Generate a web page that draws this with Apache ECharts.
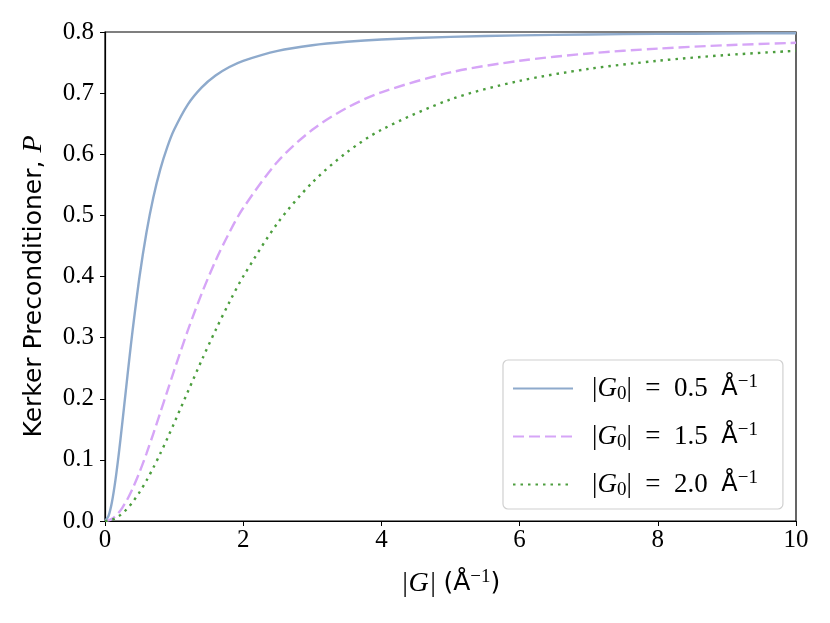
<!DOCTYPE html>
<html><head><meta charset="utf-8">
<script src="https://cdn.jsdelivr.net/npm/echarts@6/dist/echarts.min.js"></script>
<style>html,body{margin:0;padding:0;background:#fff}#c{width:830px;height:623px}</style>
</head><body><div id="c"></div>
<script>
const G = [0,0.05,0.1,0.15,0.2,0.25,0.3,0.35,0.4,0.5,0.6,0.7,0.8,0.9,1.0,1.2,1.4,1.6,1.8,2.0,2.5,3,3.5,4,5,6,7,8,9,10];
const P_05 = [0,0.0079,0.0308,0.0661,0.1103,0.16,0.2118,0.2631,0.3122,0.4,0.4721,0.5297,0.5753,0.6113,0.64,0.6817,0.7095,0.7288,0.7427,0.7529,0.7692,0.7784,0.784,0.7877,0.7921,0.7945,0.7959,0.7969,0.7975,0.798];
const P_15 = [0,0.0009,0.0035,0.0079,0.014,0.0216,0.0308,0.0413,0.0531,0.08,0.1103,0.1431,0.1772,0.2118,0.2462,0.3122,0.3724,0.4258,0.4721,0.512,0.5882,0.64,0.6759,0.7014,0.7339,0.7529,0.7649,0.7728,0.7784,0.7824];
const P_20 = [0,0.0005,0.002,0.0045,0.0079,0.0123,0.0176,0.0238,0.0308,0.0471,0.0661,0.0873,0.1103,0.1347,0.16,0.2118,0.2631,0.3122,0.358,0.4,0.4878,0.5538,0.6031,0.64,0.6897,0.72,0.7396,0.7529,0.7624,0.7692];
const seriesNames = ['0.5','1.5','2.0'];
const xTicks = {min:0,max:10,interval:2};
const yTicks = {min:0,max:0.8,interval:0.1};

const serif = 'Liberation Serif';
const sans = 'DejaVu Sans';
const pairs = a => G.map((g,i)=>[g,a[i]]);
const chart = echarts.init(document.getElementById('c'), null, {renderer:'canvas'});
const rich = {
  i:{fontFamily:serif,fontStyle:'italic',fontSize:27,color:'#000'},
  n:{fontFamily:serif,fontSize:27,color:'#000'},
  s:{fontFamily:sans,fontSize:24,color:'#000'},
  sub:{fontFamily:serif,fontSize:19,color:'#000',verticalAlign:'bottom',padding:[10,0,0,0]},
  sup:{fontFamily:serif,fontSize:19,color:'#000',verticalAlign:'top',padding:[0,0,12,0]}
};
const richX = Object.assign({}, rich, {
  i:{fontFamily:serif,fontStyle:'italic',fontSize:28,color:'#000'},
  n:{fontFamily:serif,fontSize:28,color:'#000'},
  s:{fontFamily:sans,fontSize:25,color:'#000'}
});
const richY = {
  s:{fontFamily:sans,fontSize:25,color:'#000'},
  i:{fontFamily:serif,fontStyle:'italic',fontSize:28,color:'#000'}
};
const lineCfg = [
  {color:'#8eaacc',type:'solid'},
  {color:'#d6a5f7',type:[11,5]},
  {color:'#4c9e3e',type:[2.5,5]}
];
const data = [P_05,P_15,P_20];
chart.setOption({
  animation:false,
  backgroundColor:'#fff',
  grid:{left:105,right:34,top:32,bottom:102,show:true,borderColor:'#000',borderWidth:1.2,backgroundColor:'transparent'},
  xAxis:{type:'value',min:xTicks.min,max:xTicks.max,interval:xTicks.interval,
    name:'{i||G|}{n| }{s|(Å}{sup|−1}{s|)}',nameLocation:'middle',nameGap:47,
    nameTextStyle:{rich:richX},
    axisLine:{show:true,lineStyle:{color:'#000',width:1.2}},
    axisTick:{show:true,length:5,lineStyle:{color:'#000',width:1}},
    axisLabel:{fontFamily:serif,fontSize:25,color:'#000',margin:7},
    splitLine:{show:false}},
  yAxis:{type:'value',min:yTicks.min,max:yTicks.max,interval:yTicks.interval,
    name:'{s|Kerker Preconditioner, }{i|P}',nameLocation:'middle',nameGap:57,
    nameTextStyle:{rich:richY,padding:[0,20,0,0]},
    axisLine:{show:true,lineStyle:{color:'#000',width:1.2}},
    axisTick:{show:true,length:5,lineStyle:{color:'#000',width:1}},
    axisLabel:{fontFamily:serif,fontSize:25,color:'#000',margin:11,formatter:v=>v.toFixed(1)},
    splitLine:{show:false}},
  legend:{orient:'vertical',left:503,top:360,itemWidth:60,itemHeight:30,itemGap:17,
    padding:[13,25,9,9],backgroundColor:'#fff',borderColor:'#d0d0d0',borderWidth:1.2,borderRadius:5,
    itemStyle:{color:'rgba(0,0,0,0)',borderWidth:0},
    data:seriesNames.map(n=>'G'+n),
    formatter:name=>'{n||}{i|G}{sub|0}{n||  =  '+name.slice(1)+'  }{s|Å}{sup|−1}',
    textStyle:{rich:rich,padding:[0,0,0,14]}},
  series:seriesNames.map((n,k)=>({
    name:'G'+n,type:'line',data:pairs(data[k]),showSymbol:false,symbol:'none',
    smooth:0.3,clip:true,
    lineStyle:{color:lineCfg[k].color,width:2.4,type:lineCfg[k].type,cap:'butt'},
    itemStyle:{color:lineCfg[k].color}
  }))
});
</script></body></html>
